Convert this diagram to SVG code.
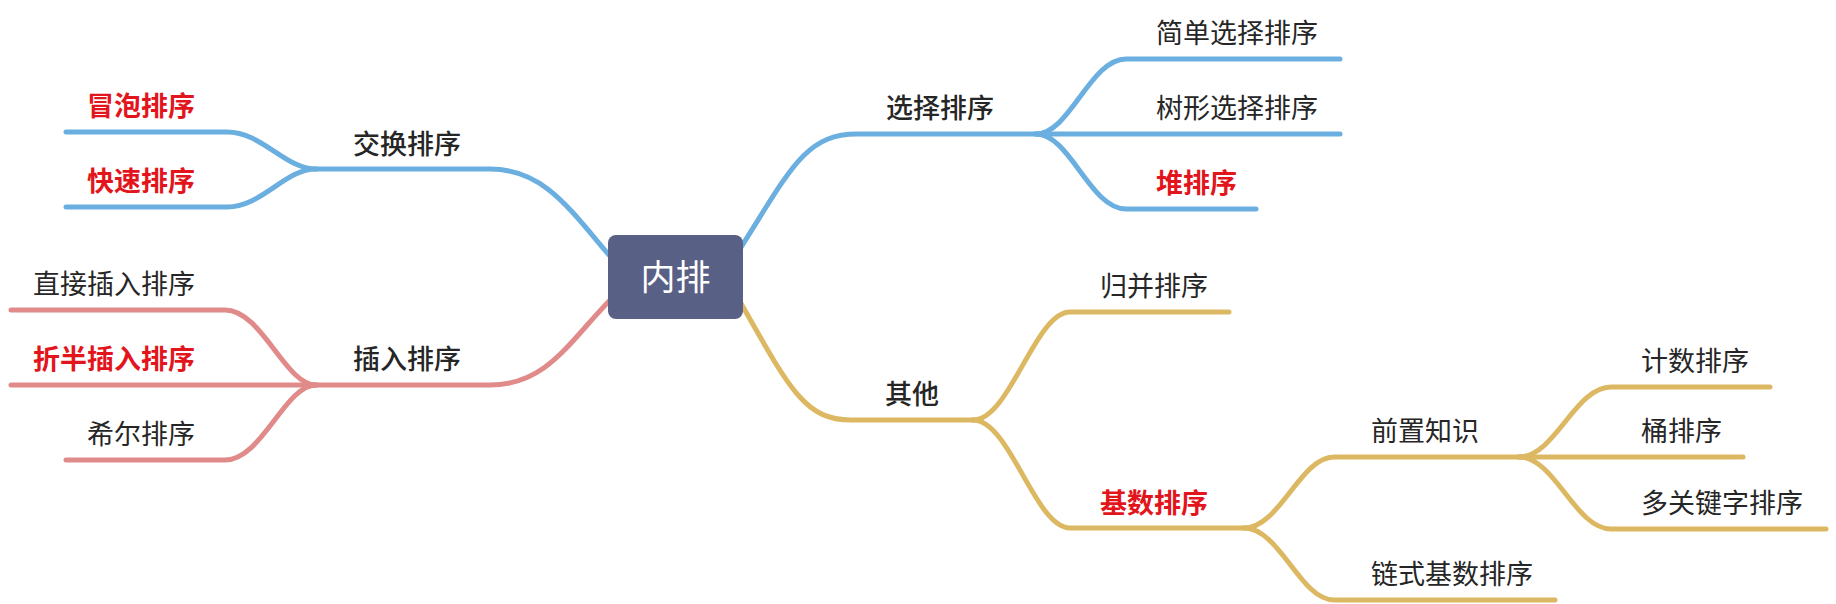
<svg xmlns="http://www.w3.org/2000/svg" width="1836" height="604" viewBox="0 0 1836 604">
<style>
.c{fill:none;stroke-width:5;stroke-linecap:round;stroke-linejoin:round}
.b{stroke:#6BAFE1}
.p{stroke:#E08A8A}
.g{stroke:#DDB862}
text{font-family:"Noto Sans CJK SC","Noto Sans",sans-serif;font-size:27px;fill:#262626}
.t2{font-weight:500}
.r{fill:#E3151C;font-weight:bold}
.root{fill:#fff;font-size:35px}
</style>
<rect width="1836" height="604" fill="#fff"/>
<g id="connectors">
<path class="c b" d="M316,169 H490 C545,169 570,210 615,262"/>
<path class="c b" d="M316,169 C285,169 262,132 227,132 H66"/>
<path class="c b" d="M316,169 C285,169 262,207 227,207 H66"/>
<path class="c p" d="M316,385 H490 C548,385 570,340 614,296"/>
<path class="c p" d="M316,385 C285,385 262,310 225,310 H11"/>
<path class="c p" d="M316,385 H11"/>
<path class="c p" d="M316,385 C285,385 262,460 225,460 H66"/>
<path class="c b" d="M738,252 C790,170 805,134 857,134 H1036"/>
<path class="c b" d="M1036,134 C1070,134 1090,59 1126,59 H1340"/>
<path class="c b" d="M1036,134 H1340"/>
<path class="c b" d="M1036,134 C1070,134 1090,209 1126,209 H1256"/>
<path class="c g" d="M738,298 C790,390 805,420 851,420 H973"/>
<path class="c g" d="M973,420 C1010,420 1035,312 1070,312 H1229"/>
<path class="c g" d="M973,420 C1010,420 1035,528 1070,528 H1244"/>
<path class="c g" d="M1244,528 C1280,528 1300,457 1334,457 H1519"/>
<path class="c g" d="M1244,528 C1280,528 1300,600 1334,600 H1555"/>
<path class="c g" d="M1519,457 C1555,457 1575,387 1611,387 H1770"/>
<path class="c g" d="M1519,457 H1743"/>
<path class="c g" d="M1519,457 C1555,457 1575,529 1611,529 H1826"/>
</g>
<g id="root"><rect x="608" y="235" width="135" height="84" rx="8" fill="#596086"/><text class="root" x="675.5" y="290" text-anchor="middle">内排</text></g>
<g id="n-jiaohuan"><text class="t2" x="353" y="154">交换排序</text></g>
<g id="n-maopao"><text class="r" x="195" y="116" text-anchor="end">冒泡排序</text></g>
<g id="n-kuaisu"><text class="r" x="195" y="191" text-anchor="end">快速排序</text></g>
<g id="n-charu"><text class="t2" x="353" y="369">插入排序</text></g>
<g id="n-zhijie"><text x="195" y="294" text-anchor="end">直接插入排序</text></g>
<g id="n-zheban"><text class="r" x="195" y="369" text-anchor="end">折半插入排序</text></g>
<g id="n-xier"><text x="195" y="444" text-anchor="end">希尔排序</text></g>
<g id="n-xuanze"><text class="t2" x="886" y="118">选择排序</text></g>
<g id="n-jiandan"><text x="1156" y="43">简单选择排序</text></g>
<g id="n-shuxing"><text x="1156" y="118">树形选择排序</text></g>
<g id="n-dui"><text class="r" x="1156" y="193">堆排序</text></g>
<g id="n-qita"><text class="t2" x="885" y="404">其他</text></g>
<g id="n-guibing"><text x="1100" y="296">归并排序</text></g>
<g id="n-jishu"><text class="r" x="1100" y="513">基数排序</text></g>
<g id="n-qianzhi"><text x="1371" y="441">前置知识</text></g>
<g id="n-lianshi"><text x="1371" y="584">链式基数排序</text></g>
<g id="n-jishu2"><text x="1641" y="371">计数排序</text></g>
<g id="n-tong"><text x="1641" y="441">桶排序</text></g>
<g id="n-duoguanjian"><text x="1641" y="513">多关键字排序</text></g>
</svg>
